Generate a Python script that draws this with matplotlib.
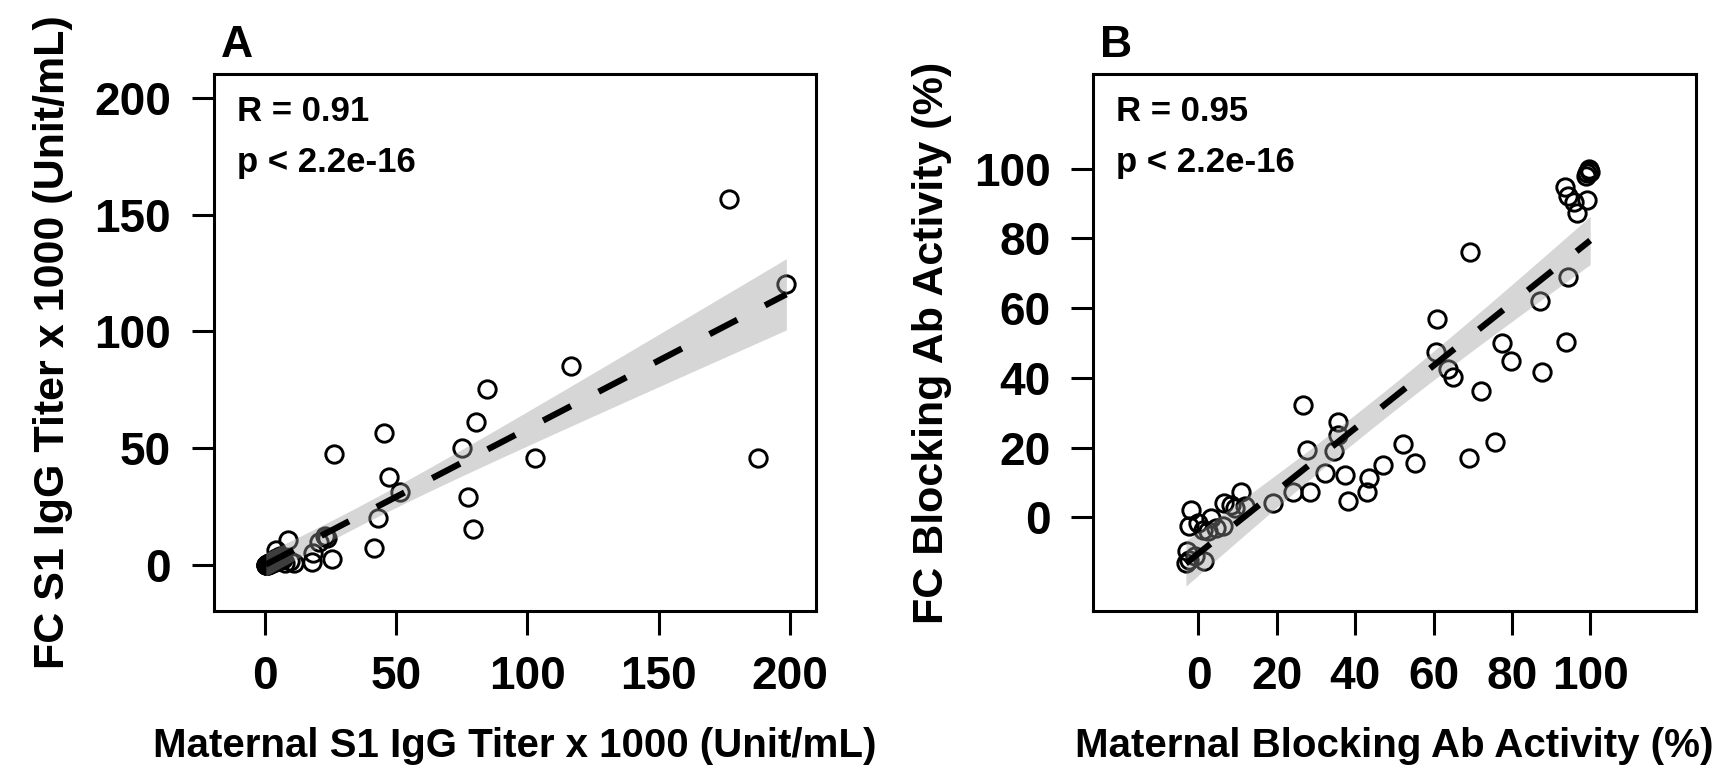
import numpy as np
import matplotlib
matplotlib.use('Agg')
import matplotlib.pyplot as plt

plt.rcParams['font.family'] = ['Liberation Sans', 'DejaVu Sans']
plt.rcParams['font.weight'] = 'bold'

# Panel A: S1 IgG titer x 1000 (Unit/mL)
a_maternal = [0.3, 0.5, 0.8, 1.0, 1.2, 1.5, 1.8, 2.1, 2.5, 2.9, 3.4, 4.0, 4.6, 5.3, 6.2, 7.5,
              0.4, 0.7, 1.1, 1.4, 1.9, 2.3, 3.0, 3.7, 4.3, 5.0, 5.8, 6.8,
              4.1, 8.9, 11.1, 9.5, 17.9, 18.4, 20.7, 23.0, 23.6, 25.5, 26.4, 41.6, 43.2, 45.2,
              47.1, 51.3, 74.9, 77.4, 79.1, 80.4, 84.7, 102.9, 116.5, 176.9, 187.8, 198.7]
a_fc = [0.1, 0.3, 0.2, 0.6, 0.4, 0.9, 0.5, 1.1, 0.8, 1.6, 1.2, 2.4, 1.8, 3.1, 2.2, 1.0,
        0.0, 0.5, 0.3, 1.0, 0.7, 1.4, 2.0, 1.5, 3.0, 2.6, 3.8, 2.9,
        6.5, 10.8, 0.8, 2.0, 1.5, 5.1, 10.1, 12.5, 11.5, 2.9, 47.6, 7.2, 20.3, 56.4,
        37.6, 31.2, 50.3, 29.3, 15.4, 61.1, 75.2, 45.7, 85.1, 156.7, 46.0, 120.2]

# Panel B: blocking Ab activity (%)
b_maternal = [-1.9, -2.3, -0.2, 3.2, 1.1, 4.5, 6.2, 6.6, 8.3, 9.2, 10.9, 12.0, -2.8, -2.3, 1.5,
              -1.0, -3.2, 2.5,
              19.0, 24.1, 28.4, 27.7, 26.8, 34.6, 35.6, 35.6, 32.4, 37.3, 43.5, 42.9, 38.2,
              47.1, 55.2, 52.2, 69.1, 75.7,
              60.8, 60.7, 63.6, 65.0, 69.2, 72.1, 77.5, 79.9, 87.3, 87.7, 93.7, 94.4,
              93.6, 94.4, 96.6, 99.1, 95.9, 99.3, 99.8, 99.0, 100.0, 99.6]
b_fc = [2.2, -2.6, -1.6, -0.2, -3.5, -3.0, -2.6, 4.1, 3.6, 2.7, 7.4, 3.2, -9.7, -12.1, -12.5,
        -11.1, -13.0, -4.0,
        4.1, 7.4, 7.4, 19.3, 32.2, 19.0, 23.7, 27.4, 12.6, 12.1, 11.2, 7.4, 4.6,
        15.0, 15.5, 20.9, 17.1, 21.7,
        57.0, 47.5, 42.6, 40.1, 76.0, 36.2, 49.9, 44.7, 62.0, 41.8, 50.3, 68.9,
        94.8, 92.0, 87.2, 91.0, 90.5, 98.6, 99.5, 97.8, 98.9, 100.0]

a_ticks = [0, 50, 100, 150, 200]
b_ticks = [0, 20, 40, 60, 80, 100]

W, H = 1715, 766


def px(x, y):
    return x / W, 1 - y / H


def t975(df):
    z = 1.959964
    return z + (z**3 + z) / (4 * df) + (5 * z**5 + 16 * z**3 + 3 * z) / (96 * df**2)


def lm_band(x, y, n_grid=80):
    # linear fit with 95% confidence band, like geom_smooth(method = "lm")
    x = np.asarray(x, float)
    y = np.asarray(y, float)
    n = len(x)
    slope, icpt = np.polyfit(x, y, 1)
    resid = y - (icpt + slope * x)
    s = np.sqrt(np.sum(resid**2) / (n - 2))
    xm = x.mean()
    sxx = np.sum((x - xm)**2)
    g = np.linspace(x.min(), x.max(), n_grid)
    fit = icpt + slope * g
    se = s * np.sqrt(1 / n + (g - xm)**2 / sxx)
    hw = t975(n - 2) * se
    return g, fit, fit - hw, fit + hw


def panel(ax, x, y, ticks, lim, letter, xlab, ylab, rtxt):
    ax.plot(x, y, 'o', ms=12.5, mfc='none', mec='black', mew=2.1, zorder=2)
    g, fit, lo, hi = lm_band(x, y)
    ax.fill_between(g, lo, hi, color='#999999', alpha=0.4, lw=0, zorder=3)
    ax.plot(g, fit, color='black', lw=4.5, ls=(0, (5, 5)), zorder=4)
    ax.set_xlim(lim)
    ax.set_ylim(lim)
    ax.set_xticks(ticks)
    ax.set_yticks(ticks)
    for sp in ax.spines.values():
        sp.set_linewidth(2.2)
    ax.tick_params(axis='x', direction='out', length=17, width=2.2, pad=15, labelsize=33)
    ax.tick_params(axis='y', direction='out', length=16, width=2.2, pad=15, labelsize=33)
    for lab in ax.get_xticklabels() + ax.get_yticklabels():
        lab.set_fontweight('bold')

    bb = ax.get_position()
    left = bb.x0 * W
    right = bb.x1 * W
    top = (1 - bb.y1) * H
    bottom = (1 - bb.y0) * H
    fig.text(*px((left + right) / 2, 757), xlab, ha='center', va='baseline',
             fontsize=29, fontweight='bold')
    fig.text(*px(left - 150, (top + bottom) / 2), ylab, rotation=90, rotation_mode='anchor',
             ha='center', va='baseline', fontsize=31, fontweight='bold')
    fig.text(*px(left + 7, 57), letter, ha='left', va='baseline', fontsize=32, fontweight='bold')
    fig.text(*px(left + 23, 121), rtxt, ha='left', va='baseline', fontsize=25, fontweight='bold')
    fig.text(*px(left + 23, 172), 'p < 2.2e-16', ha='left', va='baseline', fontsize=25,
             fontweight='bold')


fig = plt.figure(figsize=(17.15, 7.66), dpi=100)
axA = fig.add_axes([0.1247, 0.2025, 0.3511, 0.7005])
axB = fig.add_axes([0.6376, 0.2025, 0.3513, 0.7005])

panel(axA, a_maternal, a_fc, a_ticks, (-19.5, 210), 'A',
      'Maternal S1 IgG Titer x 1000 (Unit/mL)', 'FC S1 IgG Titer x 1000 (Unit/mL)', 'R = 0.91')
panel(axB, b_maternal, b_fc, b_ticks, (-26.8, 127), 'B',
      'Maternal Blocking Ab Activity (%)', 'FC Blocking Ab Activity (%)', 'R = 0.95')

fig.savefig('out.png', dpi=100)
